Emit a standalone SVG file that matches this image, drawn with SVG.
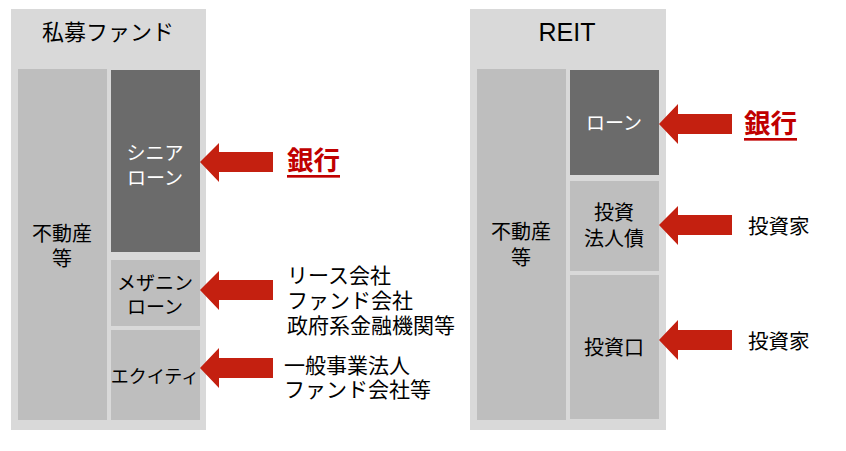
<svg xmlns="http://www.w3.org/2000/svg" width="846" height="451" viewBox="0 0 846 451">
<style>
text{font-family:"Liberation Sans","Noto Sans CJK JP",sans-serif;fill:#000;dominant-baseline:central}
.outer{fill:#D9D9D9}
.light{fill:#BEBEBE}
.dark{fill:#6B6B6B}
.arrow{fill:#C42010}
.lbl{font-size:19px;text-anchor:middle}
.k{font-size:20px}
.w{fill:#fff}
.src{font-size:21px}
.bank{font-size:26.5px;font-weight:bold;fill:#C00000;text-decoration:underline}
.title{font-size:22px;text-anchor:middle}
</style>
<rect width="846" height="451" fill="#fff"/>
<g id="fund">
<rect class="outer" x="11" y="9" width="195" height="421"/>
<text class="title" x="108" y="32">私募ファンド</text>
</g>
<g id="fund-asset">
<rect class="light" x="18" y="69" width="89" height="351"/>
<text class="lbl k" x="62" y="234">不動産</text>
<text class="lbl k" x="62" y="259">等</text>
</g>
<g id="fund-senior">
<rect class="dark" x="111" y="70" width="89" height="182"/>
<text class="lbl w" x="155" y="153">シニア</text>
<text class="lbl w" x="155" y="178">ローン</text>
</g>
<g id="fund-mezz">
<rect class="light" x="111" y="260" width="89" height="66"/>
<text class="lbl" x="155" y="283">メザニン</text>
<text class="lbl" x="155" y="307">ローン</text>
</g>
<g id="fund-equity">
<rect class="light" x="111" y="330" width="89" height="90"/>
<text class="lbl" x="155" y="377" style="font-size:18px">エクイティ</text>
</g>
<g id="reit">
<rect class="outer" x="470" y="9" width="196" height="421"/>
<text class="title" x="567" y="32" style="font-size:25px">REIT</text>
</g>
<g id="reit-asset">
<rect class="light" x="477" y="69" width="89" height="351"/>
<text class="lbl k" x="521" y="232">不動産</text>
<text class="lbl k" x="521" y="258">等</text>
</g>
<g id="reit-loan">
<rect class="dark" x="570" y="70" width="89" height="105"/>
<text class="lbl w" x="614" y="123">ローン</text>
</g>
<g id="reit-bond">
<rect class="light" x="570" y="181" width="89" height="90"/>
<text class="lbl k" x="614" y="213">投資</text>
<text class="lbl k" x="614" y="239">法人債</text>
</g>
<g id="reit-unit">
<rect class="light" x="570" y="275" width="89" height="144"/>
<text class="lbl k" x="614" y="348">投資口</text>
</g>
<g id="sources">
<text class="bank" x="287" y="161">銀行</text>
<text class="src" x="287" y="275">リース会社</text>
<text class="src" x="287" y="300">ファンド会社</text>
<text class="src" x="287" y="325">政府系金融機関等</text>
<text class="src" x="284" y="365">一般事業法人</text>
<text class="src" x="284" y="389">ファンド会社等</text>
<text class="bank" x="744" y="124">銀行</text>
<text class="src" x="748" y="226" style="font-size:20.5px">投資家</text>
<text class="src" x="748" y="341" style="font-size:20.5px">投資家</text>
</g>
<g id="connectors">
<polygon class="arrow" points="200,162 219,143 219,152 273,152 273,172 219,172 219,182"/>
<polygon class="arrow" points="200,290 219,271 219,280 273,280 273,300 219,300 219,310"/>
<polygon class="arrow" points="200,368 219,348 219,358 273,358 273,378 219,378 219,388"/>
<polygon class="arrow" points="659,124 678,104 678,114 732,114 732,134 678,134 678,144"/>
<polygon class="arrow" points="659,225 678,206 678,215 732,215 732,235 678,235 678,245"/>
<polygon class="arrow" points="659,340 678,320 678,330 732,330 732,350 678,350 678,360"/>
</g>
</svg>
